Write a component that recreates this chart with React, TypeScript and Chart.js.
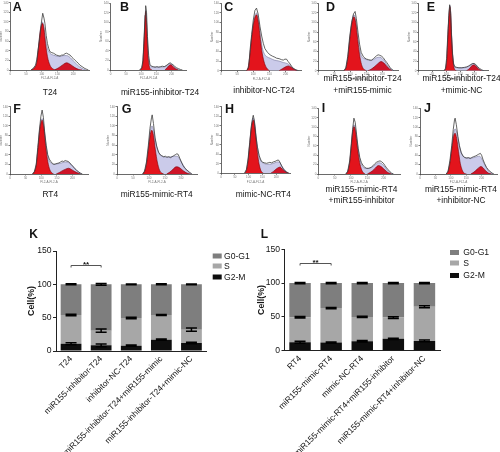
import React, { useEffect, useRef } from 'react';
import { Chart, registerables } from 'chart.js';
Chart.register(...registerables);

const FONT = '"Liberation Sans", Arial, Helvetica, sans-serif';

type P = [number, number];

// ---------------- Flow cytometry histograms: [FL2-A channel, count] ----------------
const histA_counts: P[] = [[66,0],[72,3],[80,10],[84,21],[89,45],[94,69],[99,100],[103,118],[107,108],[110,97],[114,72],[118,55],[122,45],[126,38],[132,36],[137,35],[142,33],[147,31],[152,30],[158,29],[163,31],[168,31],[174,34],[179,35],[184,33],[190,31],[195,27],[200,24],[206,20],[211,17],[216,14],[221,10],[228,7],[237,3],[248,0]];
const histA_g1: P[] = [[66,0],[76,4],[84,16],[90,50],[95,80],[102,97],[107,85],[112,55],[118,28],[126,10],[136,2],[145,0]];
const histA_g2: P[] = [[140,0],[152,4],[165,10],[179,15],[192,11],[205,5],[218,1],[228,0]];
const histA_fit: P[] = [[66,0],[76,4],[84,16],[90,51],[95,82],[102,100],[107,90],[112,65],[118,45],[126,35],[137,31],[147,29],[158,28],[168,30],[179,30],[190,26],[200,19],[211,12],[221,6],[232,2],[240,0]];

const histB_counts: P[] = [[95,0],[102,5],[106,20],[110,70],[113,115],[115,135],[118,120],[121,70],[125,30],[129,12],[134,8],[140,7],[146,6],[152,7],[158,6],[164,7],[170,8],[176,7],[182,9],[188,12],[192,14],[196,15],[200,13],[205,11],[210,8],[216,5],[222,3],[230,1],[236,0]];
const histB_g1: P[] = [[97,0],[102,4],[106,18],[110,62],[113,105],[115,123],[117,110],[120,65],[123,28],[127,8],[132,1],[136,0]];
const histB_g2: P[] = [[178,0],[186,5],[193,10],[198,11],[204,8],[212,3],[222,0]];
const histB_fit: P[] = [[97,0],[102,4],[106,18],[110,63],[113,107],[115,125],[117,113],[120,70],[123,34],[127,14],[132,8],[140,6],[150,6],[165,6],[178,7],[186,10],[193,13],[198,13],[204,10],[212,5],[222,1],[228,0]];

const histC_counts: P[] = [[80,0],[86,8],[90,43],[95,75],[100,105],[105,125],[110,130],[115,118],[121,91],[126,72],[131,57],[136,46],[144,38],[152,33],[160,30],[167,28],[172,26],[180,25],[187,23],[193,22],[198,24],[203,24],[208,19],[214,14],[219,9],[224,5],[232,2],[240,0]];
const histC_g1: P[] = [[78,0],[84,6],[90,35],[96,75],[103,105],[110,116],[116,100],[122,65],[128,35],[135,15],[142,5],[150,0]];
const histC_g2: P[] = [[180,0],[190,4],[200,8],[209,10],[218,7],[226,3],[235,0]];
const histC_fit: P[] = [[78,0],[84,6],[90,36],[96,77],[103,108],[110,120],[116,106],[122,74],[128,48],[135,34],[142,29],[152,26],[165,22],[180,20],[193,17],[205,15],[214,11],[222,6],[230,2],[238,0]];

const histD_counts: P[] = [[80,0],[86,6],[92,30],[98,70],[104,100],[110,118],[115,123],[119,108],[124,80],[129,55],[134,38],[141,29],[146,26],[151,24],[157,23],[162,22],[167,22],[172,25],[177,28],[182,31],[187,33],[192,32],[198,30],[203,27],[208,22],[214,17],[219,12],[224,7],[229,3],[236,0]];
const histD_g1: P[] = [[80,0],[86,5],[92,25],[98,62],[104,95],[111,112],[117,100],[123,65],[129,33],[135,13],[141,4],[150,0]];
const histD_g2: P[] = [[155,0],[165,3],[175,8],[185,14],[196,19],[205,16],[214,9],[222,4],[230,0]];
const histD_fit: P[] = [[80,0],[86,5],[92,26],[98,64],[104,98],[111,116],[117,105],[123,72],[129,44],[135,30],[141,26],[151,23],[162,21],[172,23],[182,27],[192,28],[200,25],[208,19],[216,11],[224,5],[232,1],[238,0]];

const histE_counts: P[] = [[92,0],[97,5],[101,25],[105,70],[109,115],[112,137],[115,125],[118,80],[122,35],[126,14],[131,8],[137,7],[145,6],[155,6],[165,7],[173,8],[180,10],[188,13],[194,15],[199,15],[205,13],[211,9],[218,5],[226,2],[233,0]];
const histE_g1: P[] = [[93,0],[98,5],[102,25],[106,75],[110,118],[113,133],[116,115],[119,70],[123,28],[127,8],[132,1],[136,0]];
const histE_g2: P[] = [[172,0],[180,3],[188,8],[195,12],[200,12],[208,8],[216,3],[226,0]];
const histE_fit: P[] = [[93,0],[98,5],[102,25],[106,76],[110,120],[113,135],[116,118],[119,74],[123,33],[127,13],[132,7],[145,6],[160,6],[172,7],[180,9],[188,12],[195,15],[200,14],[208,10],[216,4],[226,1],[232,0]];

const histF_counts: P[] = [[72,0],[78,5],[84,20],[89,55],[94,90],[99,120],[103,133],[107,118],[111,88],[116,60],[121,40],[126,31],[131,26],[136,22],[141,20],[146,21],[151,22],[157,23],[162,25],[167,27],[172,26],[177,28],[182,27],[187,26],[192,23],[197,19],[203,15],[208,11],[213,8],[219,5],[225,2],[232,0]];
const histF_g1: P[] = [[72,0],[78,4],[84,18],[90,55],[96,95],[103,112],[108,98],[114,60],[120,30],[126,12],[133,3],[140,0]];
const histF_g2: P[] = [[148,0],[158,3],[168,7],[178,10],[188,12],[198,9],[208,5],[218,2],[226,0]];
const histF_fit: P[] = [[72,0],[78,4],[84,18],[90,56],[96,97],[103,115],[108,102],[114,67],[120,40],[126,27],[133,22],[140,20],[150,21],[160,22],[170,24],[180,25],[190,23],[198,18],[206,13],[214,7],[222,3],[230,0]];

const histG_counts: P[] = [[80,0],[86,6],[92,25],[98,60],[103,95],[108,118],[110,123],[114,105],[119,75],[124,58],[130,45],[135,40],[140,38],[146,36],[151,37],[156,35],[162,36],[167,34],[172,36],[177,38],[182,40],[187,42],[191,41],[196,33],[201,25],[206,18],[212,12],[219,8],[226,4],[234,0]];
const histG_g1: P[] = [[80,0],[86,5],[92,20],[98,50],[104,82],[109,91],[114,80],[120,50],[126,25],[133,8],[140,2],[146,0]];
const histG_g2: P[] = [[155,0],[165,4],[175,10],[185,15],[193,14],[203,9],[213,4],[222,1],[230,0]];
const histG_fit: P[] = [[80,0],[86,5],[92,21],[98,53],[104,88],[109,100],[114,92],[120,70],[126,52],[133,42],[140,37],[150,35],[160,35],[170,36],[180,37],[188,37],[196,31],[204,22],[212,13],[220,6],[228,2],[234,0]];

const histH_counts: P[] = [[85,0],[92,8],[98,30],[104,65],[110,100],[115,118],[117,122],[121,110],[126,80],[132,55],[138,38],[143,30],[147,25],[152,23],[158,22],[165,21],[171,22],[177,23],[183,22],[190,24],[196,25],[202,27],[208,28],[213,24],[220,15],[226,9],[232,5],[238,2],[245,0]];
const histH_g1: P[] = [[85,0],[92,6],[98,25],[104,60],[110,95],[117,112],[123,95],[129,60],[135,30],[141,12],[147,3],[154,0]];
const histH_g2: P[] = [[180,0],[190,4],[200,9],[208,12],[214,13],[222,9],[230,5],[238,2],[246,0]];
const histH_fit: P[] = [[85,0],[92,6],[98,26],[104,62],[110,98],[117,116],[123,102],[129,70],[135,45],[141,30],[147,24],[155,21],[165,19],[175,19],[185,20],[195,22],[205,24],[212,23],[220,16],[228,9],[236,4],[244,1],[248,0]];

const histI_counts: P[] = [[84,0],[90,6],[96,28],[101,65],[105,95],[109,119],[113,110],[117,85],[122,55],[127,35],[132,24],[138,17],[143,14],[148,12],[153,12],[158,13],[163,15],[168,18],[173,22],[178,25],[184,27],[189,28],[194,26],[199,23],[204,18],[209,13],[214,9],[219,5],[224,2],[230,0]];
const histI_g1: P[] = [[84,0],[90,5],[96,24],[101,58],[105,88],[109,101],[114,90],[119,60],[125,30],[131,12],[137,3],[143,0]];
const histI_g2: P[] = [[150,0],[158,3],[166,7],[175,13],[184,18],[192,16],[200,11],[208,6],[216,2],[224,0]];
const histI_fit: P[] = [[84,0],[90,5],[96,25],[101,60],[105,91],[109,105],[114,96],[119,68],[125,40],[131,22],[137,15],[145,12],[155,12],[165,15],[175,20],[184,24],[192,23],[200,18],[208,11],[216,5],[224,1],[230,0]];

const histJ_counts: P[] = [[85,0],[91,6],[97,28],[103,60],[108,95],[112,115],[114,119],[118,105],[123,80],[128,60],[134,45],[140,38],[146,35],[152,34],[157,35],[163,33],[168,35],[174,37],[179,38],[185,40],[190,42],[196,44],[200,40],[205,30],[210,22],[216,14],[222,9],[228,5],[234,2],[240,0]];
const histJ_g1: P[] = [[85,0],[91,5],[97,22],[103,52],[109,80],[114,87],[119,76],[125,48],[131,22],[138,7],[145,1],[151,0]];
const histJ_g2: P[] = [[165,0],[175,4],[185,10],[192,14],[198,16],[205,13],[213,7],[222,2],[232,0]];
const histJ_fit: P[] = [[85,0],[91,5],[97,23],[103,55],[109,86],[114,96],[119,90],[125,70],[131,52],[138,40],[145,35],[155,34],[165,34],[175,35],[185,37],[193,38],[200,33],[207,24],[214,15],[222,7],[230,2],[238,0]];

const histLetters = ['A', 'B', 'C', 'D', 'E', 'F', 'G', 'H', 'I', 'J'];
const histTitles: string[][] = [
  ['T24'],
  ['miR155-inhibitor-T24'],
  ['inhibitor-NC-T24'],
  ['miR155-inhibitor-T24', '+miR155-mimic'],
  ['miR155-inhibitor-T24', '+mimic-NC'],
  ['RT4'],
  ['miR155-mimic-RT4'],
  ['mimic-NC-RT4'],
  ['miR155-mimic-RT4', '+miR155-inhibitor'],
  ['miR155-mimic-RT4', '+inhibitor-NC'],
];
const histXTicks = [0, 50, 100, 150, 200];
const histYTicks = [0, 20, 40, 60, 80, 100, 120, 140];
const histXMax = 250;
const histYMax = 140;

const histSeries = [
  [histA_counts, histA_g1, histA_g2, histA_fit],
  [histB_counts, histB_g1, histB_g2, histB_fit],
  [histC_counts, histC_g1, histC_g2, histC_fit],
  [histD_counts, histD_g1, histD_g2, histD_fit],
  [histE_counts, histE_g1, histE_g2, histE_fit],
  [histF_counts, histF_g1, histF_g2, histF_fit],
  [histG_counts, histG_g1, histG_g2, histG_fit],
  [histH_counts, histH_g1, histH_g2, histH_fit],
  [histI_counts, histI_g1, histI_g2, histI_fit],
  [histJ_counts, histJ_g1, histJ_g2, histJ_fit],
];

// ---------------- Cell cycle distribution (%) ----------------
const phaseLabels = ['G2-M', 'S', 'G0-G1'];
const cellTicks = [0, 50, 100, 150];
const sigText = '**';
const sigValue = 129;

const K_categories = ['T24', 'miR155-inhibitor-T24', 'inhibitor-NC-T24', 'miR155-inhibitor-T24+miR155-mimic', 'miR155-inhibitor-T24+mimic-NC'];
const K_G2M = [11, 8.5, 8, 17, 12];
const K_S = [43, 22, 41.5, 37, 20];
const K_G0G1 = [46, 69.5, 50.5, 46, 68];
const K_G2M_err = [1.5, 2, 1, 1, 1];
const K_S_err = [1, 2.5, 1, 0.8, 2.5];
const K_G0G1_err = [0.8, 1.2, 0.6, 0.8, 0.6];

const L_categories = ['RT4', 'miR155-mimic-RT4', 'mimic-NC-RT4', 'miR155-mimic-RT4+miR155-inhibitor', 'miR155-mimic-RT4+inhibitor-NC'];
const L_G2M = [12.5, 12, 14, 17.5, 14.5];
const L_S = [37, 51, 36, 31.5, 50.5];
const L_G0G1 = [50.5, 37, 50, 51, 35];
const L_G2M_err = [1.5, 0.8, 1.2, 0.8, 1.2];
const L_S_err = [1, 1, 1, 1.2, 1.5];
const L_G0G1_err = [1, 0.8, 0.8, 0.8, 0.8];

// ---------------- layout (positions only) ----------------
const HIST_LAYOUT = [
  { axisX: 10.3, axisEnd: 89, top: 2.7, bottom: 70, lx: 12.7, lb: 11.7, tx: 50, tb: [95.5] },
  { axisX: 110.7, axisEnd: 186.7, top: 3.3, bottom: 70, lx: 120, lb: 11.7, tx: 160, tb: [95.5] },
  { axisX: 221, axisEnd: 301.7, top: 3.3, bottom: 70.7, lx: 224.3, lb: 11.5, tx: 264, tb: [93] },
  { axisX: 318.3, axisEnd: 398.3, top: 3.3, bottom: 70.7, lx: 326, lb: 11.7, tx: 362.5, tb: [81, 92.7] },
  { axisX: 418.3, axisEnd: 488.3, top: 3.3, bottom: 70.7, lx: 426.7, lb: 11.7, tx: 461.5, tb: [81, 92.7] },
  { axisX: 10, axisEnd: 88, top: 106.7, bottom: 174, lx: 13.3, lb: 113.5, tx: 50.3, tb: [197] },
  { axisX: 117, axisEnd: 197, top: 106.7, bottom: 174, lx: 121.7, lb: 113.5, tx: 156.7, tb: [197] },
  { axisX: 221, axisEnd: 290, top: 106.7, bottom: 173.3, lx: 225, lb: 114, tx: 263.3, tb: [197] },
  { axisX: 318.3, axisEnd: 400, top: 108.3, bottom: 174, lx: 321.7, lb: 113, tx: 361.5, tb: [192, 203] },
  { axisX: 420, axisEnd: 497, top: 108.3, bottom: 174, lx: 424, lb: 113, tx: 461, tb: [192, 203] },
];

function Txt(props: { x: number; base: number; size: number; bold?: boolean; center?: boolean; children: any }) {
  const { x, base, size, bold, center, children } = props;
  return (
    <div
      style={{
        position: 'absolute',
        left: x,
        top: base - 0.8465 * size,
        fontSize: size,
        lineHeight: size + 'px',
        fontWeight: bold ? 700 : 400,
        fontFamily: FONT,
        whiteSpace: 'nowrap',
        color: '#141414',
        transform: center ? 'translateX(-50%)' : undefined,
      }}
    >
      {children}
    </div>
  );
}

function Histogram(props: { geo: any; series: P[][] }) {
  const { geo, series } = props;
  const ref = useRef<HTMLCanvasElement>(null);
  const cl = Math.floor(geo.axisX - 11);
  const ct = Math.floor(geo.top - 3);
  const w = Math.ceil(geo.axisEnd + 3) - cl;
  const h = Math.ceil(geo.bottom + 10) - ct;
  useEffect(() => {
    const xy = (a: P[]) => a.map(([x, y]) => ({ x, y }));
    const [counts, g1, g2, fit] = series;
    const tickFont = { size: 3, family: FONT };
    const chart = new Chart(ref.current as HTMLCanvasElement, {
      type: 'line',
      data: {
        datasets: [
          { data: xy(counts), borderColor: '#3c3c3c', borderWidth: 0.8, pointRadius: 0, fill: false, tension: 0 },
          { data: xy(g1), borderColor: '#7a0008', borderWidth: 0.6, backgroundColor: '#e3141c', pointRadius: 0, fill: 'origin', cubicInterpolationMode: 'monotone' },
          { data: xy(g2), borderColor: '#7a0008', borderWidth: 0.6, backgroundColor: '#cf1428', pointRadius: 0, fill: 'origin', cubicInterpolationMode: 'monotone' },
          { data: xy(fit), borderColor: '#77779c', borderWidth: 0.6, backgroundColor: '#cbcbea', pointRadius: 0, fill: 'origin', cubicInterpolationMode: 'monotone' },
        ] as any,
      },
      options: {
        animation: false,
        responsive: false,
        events: [],
        layout: { padding: { top: geo.top - ct, right: cl + w - geo.axisEnd, left: 0, bottom: 0 } },
        plugins: { legend: { display: false }, tooltip: { enabled: false } },
        scales: {
          x: {
            type: 'linear',
            min: 0,
            max: histXMax,
            afterBuildTicks: (s: any) => { s.ticks = histXTicks.map((v) => ({ value: v })); },
            ticks: { font: tickFont, color: '#777', padding: 0.5, maxRotation: 0 },
            grid: { drawOnChartArea: false, tickLength: 1.5, color: '#777' },
            border: { color: '#444', width: 0.8 },
            title: { display: true, text: 'FL2-A-FL2-A', font: tickFont, color: '#777', padding: 0 },
            afterFit: (s: any) => { s.height = ct + h - geo.bottom; },
          },
          y: {
            min: 0,
            max: histYMax,
            afterBuildTicks: (s: any) => { s.ticks = histYTicks.map((v) => ({ value: v })); },
            ticks: { font: tickFont, color: '#777', padding: 0.5 },
            grid: { drawOnChartArea: false, tickLength: 1.5, color: '#777' },
            border: { color: '#444', width: 0.8 },
            title: { display: true, text: 'Number', font: tickFont, color: '#777', padding: 0 },
            afterFit: (s: any) => { s.width = geo.axisX - cl; },
          },
        },
      } as any,
    });
    return () => chart.destroy();
  }, []);
  return <canvas ref={ref} width={w} height={h} style={{ position: 'absolute', left: cl, top: ct, width: w, height: h }} />;
}

const overlayPlugin = {
  id: 'cellOverlay',
  afterDatasetsDraw(chart: any, _args: any, opts: any) {
    const ctx = chart.ctx;
    const y = chart.scales.y;
    const n = chart.data.labels.length;
    const cum = new Array(n).fill(0);
    ctx.save();
    ctx.strokeStyle = '#000';
    ctx.lineWidth = 1.5;
    chart.data.datasets.forEach((ds: any, di: number) => {
      const meta = chart.getDatasetMeta(di);
      ds.data.forEach((v: number, i: number) => {
        cum[i] += v;
        const sd = opts.errors[di][i];
        const x = meta.data[i].x;
        const y1 = y.getPixelForValue(cum[i] + sd);
        const y0 = y.getPixelForValue(cum[i] - sd);
        ctx.beginPath();
        ctx.moveTo(x, y0);
        ctx.lineTo(x, y1);
        ctx.moveTo(x - 5.5, y1);
        ctx.lineTo(x + 5.5, y1);
        ctx.moveTo(x - 5.5, y0);
        ctx.lineTo(x + 5.5, y0);
        ctx.stroke();
      });
    });
    // significance bracket
    const m0 = chart.getDatasetMeta(0);
    const xa = m0.data[opts.sig.from].x;
    const xb = m0.data[opts.sig.to].x;
    const yb = Math.round(y.getPixelForValue(opts.sig.value)) + 0.5;
    ctx.lineWidth = 1;
    ctx.strokeStyle = '#555';
    ctx.beginPath();
    ctx.moveTo(xa, yb + 2);
    ctx.lineTo(xa, yb);
    ctx.lineTo(xb, yb);
    ctx.lineTo(xb, yb + 2);
    ctx.stroke();
    ctx.fillStyle = '#111';
    ctx.font = `bold 8px ${FONT}`;
    ctx.textAlign = 'center';
    ctx.textBaseline = 'alphabetic';
    ctx.fillText(opts.sig.text, (xa + xb) / 2, yb + 1);
    // legend
    const items = chart.data.datasets.slice().reverse();
    ctx.font = `8.6px ${FONT}`;
    ctx.textAlign = 'left';
    ctx.textBaseline = 'middle';
    items.forEach((ds: any, k: number) => {
      const ry = opts.legend.rows[k];
      ctx.fillStyle = ds.backgroundColor;
      ctx.fillRect(opts.legend.x, ry - 2.5, 9, 5);
      ctx.fillStyle = '#141414';
      ctx.fillText(ds.label, opts.legend.tx, ry + 0.5);
    });
    ctx.restore();
  },
};

function CellBar(props: {
  left: number; top: number; width: number; height: number;
  areaLeft: number; areaRight: number; areaTop: number; areaBottom: number;
  titleX: number; categories: string[]; g2m: number[]; s: number[]; g0g1: number[];
  errors: number[][]; legend: { x: number; tx: number; rows: number[] };
}) {
  const p = props;
  const ref = useRef<HTMLCanvasElement>(null);
  useEffect(() => {
    const colors = ['#0e0e0e', '#a7a7a7', '#7e7e7e'];
    const values = [p.g2m, p.s, p.g0g1];
    const chart = new Chart(ref.current as HTMLCanvasElement, {
      type: 'bar',
      data: {
        labels: p.categories,
        datasets: phaseLabels.map((lab, i) => ({
          label: lab,
          data: values[i],
          backgroundColor: colors[i],
          borderWidth: 0,
          barPercentage: 0.69,
          categoryPercentage: 1,
        })),
      },
      options: {
        animation: false,
        responsive: false,
        events: [],
        layout: { padding: { top: p.areaTop - p.top, right: p.left + p.width - p.areaRight, left: 0, bottom: 0 } },
        plugins: {
          legend: { display: false },
          tooltip: { enabled: false },
          cellOverlay: {
            errors: p.errors,
            sig: { from: 0, to: 1, value: sigValue, text: sigText },
            legend: { x: p.legend.x - p.left, tx: p.legend.tx - p.left, rows: p.legend.rows.map((r) => r - p.top) },
          },
        },
        scales: {
          x: {
            stacked: true,
            grid: { drawOnChartArea: false, drawTicks: false, color: '#222' },
            border: { color: '#222', width: 1 },
            ticks: { minRotation: 45, maxRotation: 45, autoSkip: false, padding: 3, color: '#141414', font: { size: 8.4, family: FONT } },
            afterFit: (s: any) => { s.height = p.top + p.height - p.areaBottom; },
          },
          y: {
            stacked: true,
            min: 0,
            max: 150,
            afterBuildTicks: (s: any) => { s.ticks = cellTicks.map((v) => ({ value: v })); },
            grid: { drawOnChartArea: false, tickLength: 3, color: '#222' },
            border: { color: '#222', width: 1 },
            ticks: { padding: 1.5, color: '#141414', font: { size: 8.6, family: FONT } },
            title: {
              display: true,
              text: 'Cell(%)',
              color: '#141414',
              font: { size: 8.8, weight: 'bold', family: FONT },
              padding: { top: p.titleX - p.left - 5.28, bottom: 0 },
            },
            afterFit: (s: any) => { s.width = p.areaLeft - p.left; },
          },
        },
      } as any,
      plugins: [overlayPlugin as any],
    });
    return () => chart.destroy();
  }, []);
  return (
    <canvas ref={ref} width={p.width} height={p.height} style={{ position: 'absolute', left: p.left, top: p.top, width: p.width, height: p.height }} />
  );
}

export default function App() {
  return (
    <div style={{ position: 'absolute', left: 0, top: 0, width: 500, height: 452, background: '#fff', overflow: 'hidden' }}>
      {HIST_LAYOUT.map((geo, i) => (
        <React.Fragment key={i}>
          <Histogram geo={geo} series={histSeries[i]} />
          <Txt x={geo.lx} base={geo.lb} size={12.5} bold>{histLetters[i]}</Txt>
          {histTitles[i].map((t, j) => (
            <Txt key={j} x={geo.tx} base={geo.tb[j]} size={8.4} center>{t}</Txt>
          ))}
        </React.Fragment>
      ))}
      <CellBar
        left={0} top={220} width={250} height={232}
        areaLeft={56} areaRight={206.5} areaTop={251} areaBottom={351}
        titleX={31.5}
        categories={K_categories} g2m={K_G2M} s={K_S} g0g1={K_G0G1}
        errors={[K_G2M_err, K_S_err, K_G0G1_err]}
        legend={{ x: 212.7, tx: 224, rows: [256, 266, 277] }}
      />
      <CellBar
        left={250} top={220} width={250} height={232}
        areaLeft={284.5} areaRight={440} areaTop={249.3} areaBottom={350.7}
        titleX={262}
        categories={L_categories} g2m={L_G2M} s={L_S} g0g1={L_G0G1}
        errors={[L_G2M_err, L_S_err, L_G0G1_err]}
        legend={{ x: 450, tx: 463.3, rows: [252.5, 263, 275.5] }}
      />
      <Txt x={29.3} base={238.3} size={12} bold>K</Txt>
      <Txt x={260.7} base={238.3} size={12} bold>L</Txt>
    </div>
  );
}
